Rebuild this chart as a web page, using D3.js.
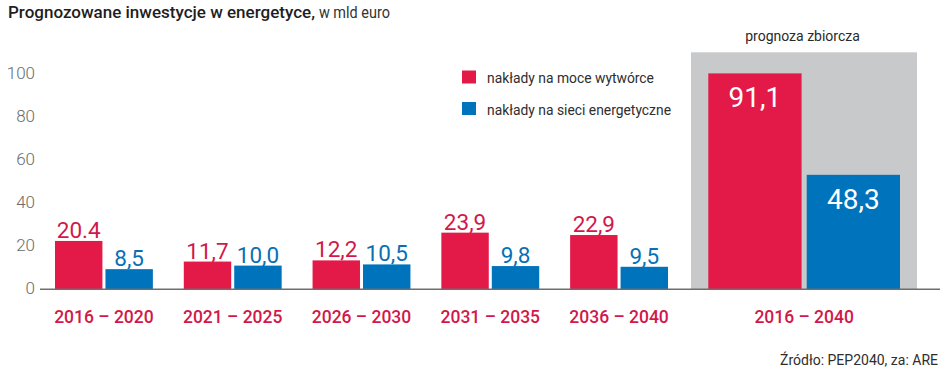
<!DOCTYPE html>
<html>
<head>
<meta charset="utf-8">
<script src="https://cdn.jsdelivr.net/npm/d3@7"></script>
<style>
  html, body { margin: 0; padding: 0; background: #fff; }
  svg { display: block; font-family: Roboto, "Liberation Sans", sans-serif; }
</style>
</head>
<body>
<svg id="chart" width="948" height="370"></svg>
<script>
// ---- data ----
const periods = ["2016 – 2020", "2021 – 2025", "2026 – 2030", "2031 – 2035", "2036 – 2040"];
const moce = [20.4, 11.7, 12.2, 23.9, 22.9];
const sieci = [8.5, 10.0, 10.5, 9.8, 9.5];
const moceLabels = ["20.4", "11,7", "12,2", "23,9", "22,9"];
const sieciLabels = ["8,5", "10,0", "10,5", "9,8", "9,5"];
const totalPeriod = ["2016 – 2040"];
const totalValues = [91.1, 48.3];
const totalLabels = ["91,1", "48,3"];
const seriesNames = ["nakłady na moce wytwórce", "nakłady na sieci energetyczne"];
const yTicks = [0, 20, 40, 60, 80, 100];

// ---- styles ----
const RED = "#e31a48", BLUE = "#0073bd", GRAY = "#c8c9cb";
const RED_TEXT = "#d2184a", BLUE_TEXT = "#0a6fb5";

const svg = d3.select("#chart");
const baseY = 289.3;

// scales
const y = d3.scaleLinear().domain([0, 100]).range([baseY, 52.3]);
const yAxisScale = d3.scaleLinear().domain([0, 100]).range([288.5, 72.7]);
const x = d3.scaleBand().domain(periods).range([55, 668]).paddingInner(0.24).paddingOuter(0);
const xs = d3.scaleBand().domain(seriesNames).range([0, x.bandwidth()]).paddingInner(0.06);
const xT = d3.scaleBand().domain(totalPeriod).range([708.3, 900]);
const xsT = d3.scaleBand().domain(seriesNames).range([0, xT.bandwidth()]).paddingInner(0.052);

// title
const t1 = svg.append("text").attr("x", 8).attr("y", 18)
  .style("font-size", "17px").style("font-weight", 500).attr("fill", "#1e1e1e")
  .text("Prognozowane inwestycje w energetyce,");
const t1w = t1.node().getComputedTextLength();
svg.append("g").attr("transform", `translate(${8 + t1w + 4},18) scale(0.85,1)`)
  .append("text").attr("x", 0).attr("y", 0)
  .style("font-size", "17px").style("font-weight", 400).attr("fill", "#333")
  .text("w mld euro");

// gray summary box
svg.append("rect").attr("x", 691).attr("width", 917 - 691)
  .attr("y", y(100)).attr("height", baseY - y(100)).attr("fill", GRAY);

svg.append("text").attr("x", 802.5).attr("y", 40.5).attr("text-anchor", "middle")
  .style("font-size", "14px").attr("fill", "#2a2a2a").text("prognoza zbiorcza");

// y axis labels
const yAxis = d3.axisLeft(yAxisScale).tickValues(yTicks).tickSize(0).tickPadding(0).tickFormat(d3.format("d"));
const gy = svg.append("g").attr("transform", "translate(35,0)").call(yAxis);
gy.select(".domain").remove();
gy.selectAll("text").style("font-size", "17px").style("font-family", "Roboto, sans-serif")
  .style("font-weight", 300).attr("fill", "#6b6b6b");

// bars for periods
const groups = svg.append("g").selectAll("g").data(periods).join("g")
  .attr("transform", d => `translate(${x(d)},0)`);

groups.append("rect")
  .attr("x", xs(seriesNames[0])).attr("width", xs.bandwidth())
  .attr("y", (d, i) => y(moce[i])).attr("height", (d, i) => baseY - y(moce[i]))
  .attr("fill", RED);
groups.append("rect")
  .attr("x", xs(seriesNames[1])).attr("width", xs.bandwidth())
  .attr("y", (d, i) => y(sieci[i])).attr("height", (d, i) => baseY - y(sieci[i]))
  .attr("fill", BLUE);

groups.append("text")
  .attr("x", xs(seriesNames[0]) + xs.bandwidth() / 2).attr("y", (d, i) => y(moce[i]) - 3)
  .attr("text-anchor", "middle").style("font-size", "22.5px").attr("fill", RED_TEXT)
  .text((d, i) => moceLabels[i]);
groups.append("text")
  .attr("x", xs(seriesNames[1]) + xs.bandwidth() / 2).attr("y", (d, i) => y(sieci[i]) - 3)
  .attr("text-anchor", "middle").style("font-size", "22.5px").attr("fill", BLUE_TEXT)
  .text((d, i) => sieciLabels[i]);

// totals
const tg = svg.append("g").attr("transform", `translate(${xT(totalPeriod[0])},0)`);
tg.selectAll("rect").data(totalValues).join("rect")
  .attr("x", (d, i) => xsT(seriesNames[i])).attr("width", xsT.bandwidth())
  .attr("y", d => y(d)).attr("height", d => baseY - y(d))
  .attr("fill", (d, i) => i === 0 ? RED : BLUE);
tg.selectAll("text").data(totalValues).join("text")
  .attr("x", (d, i) => xsT(seriesNames[i]) + xsT.bandwidth() / 2)
  .attr("y", d => y(d) + 34)
  .attr("text-anchor", "middle").style("font-size", "28px").attr("fill", "#fff")
  .text((d, i) => totalLabels[i]);

// baseline
svg.append("line").attr("x1", 40).attr("x2", 940).attr("y1", baseY).attr("y2", baseY)
  .attr("stroke", "#6e6e6e").attr("stroke-width", 1.5);

// category labels
const gx = svg.append("g");
gx.selectAll("text.cat").data(periods.concat(totalPeriod)).join("text")
  .attr("class", "cat")
  .attr("x", d => periods.includes(d) ? x(d) + x.bandwidth() / 2 : xT(d) + xT.bandwidth() / 2)
  .attr("y", 323)
  .attr("text-anchor", "middle").style("font-size", "17.5px").style("font-weight", 500)
  .attr("fill", RED_TEXT).text(d => d);

// legend
const lg = svg.append("g");
const legendColors = [RED, BLUE];
lg.selectAll("rect").data(seriesNames).join("rect")
  .attr("x", 462).attr("y", (d, i) => 70.5 + i * 31.5).attr("width", 14).attr("height", 13)
  .attr("fill", (d, i) => legendColors[i]);
lg.selectAll("g.lt").data(seriesNames).join("g").attr("class", "lt")
  .attr("transform", (d, i) => `translate(487,${83 + i * 31.5}) scale(0.895,1)`)
  .append("text").attr("x", 0).attr("y", 0)
  .style("font-size", "15.5px").attr("fill", "#2e2e2e").text(d => d);

// source
svg.append("text").attr("x", 938).attr("y", 365).attr("text-anchor", "end")
  .style("font-size", "14px").attr("fill", "#2e2e2e").text("Źródło: PEP2040, za: ARE");
</script>
</body>
</html>
